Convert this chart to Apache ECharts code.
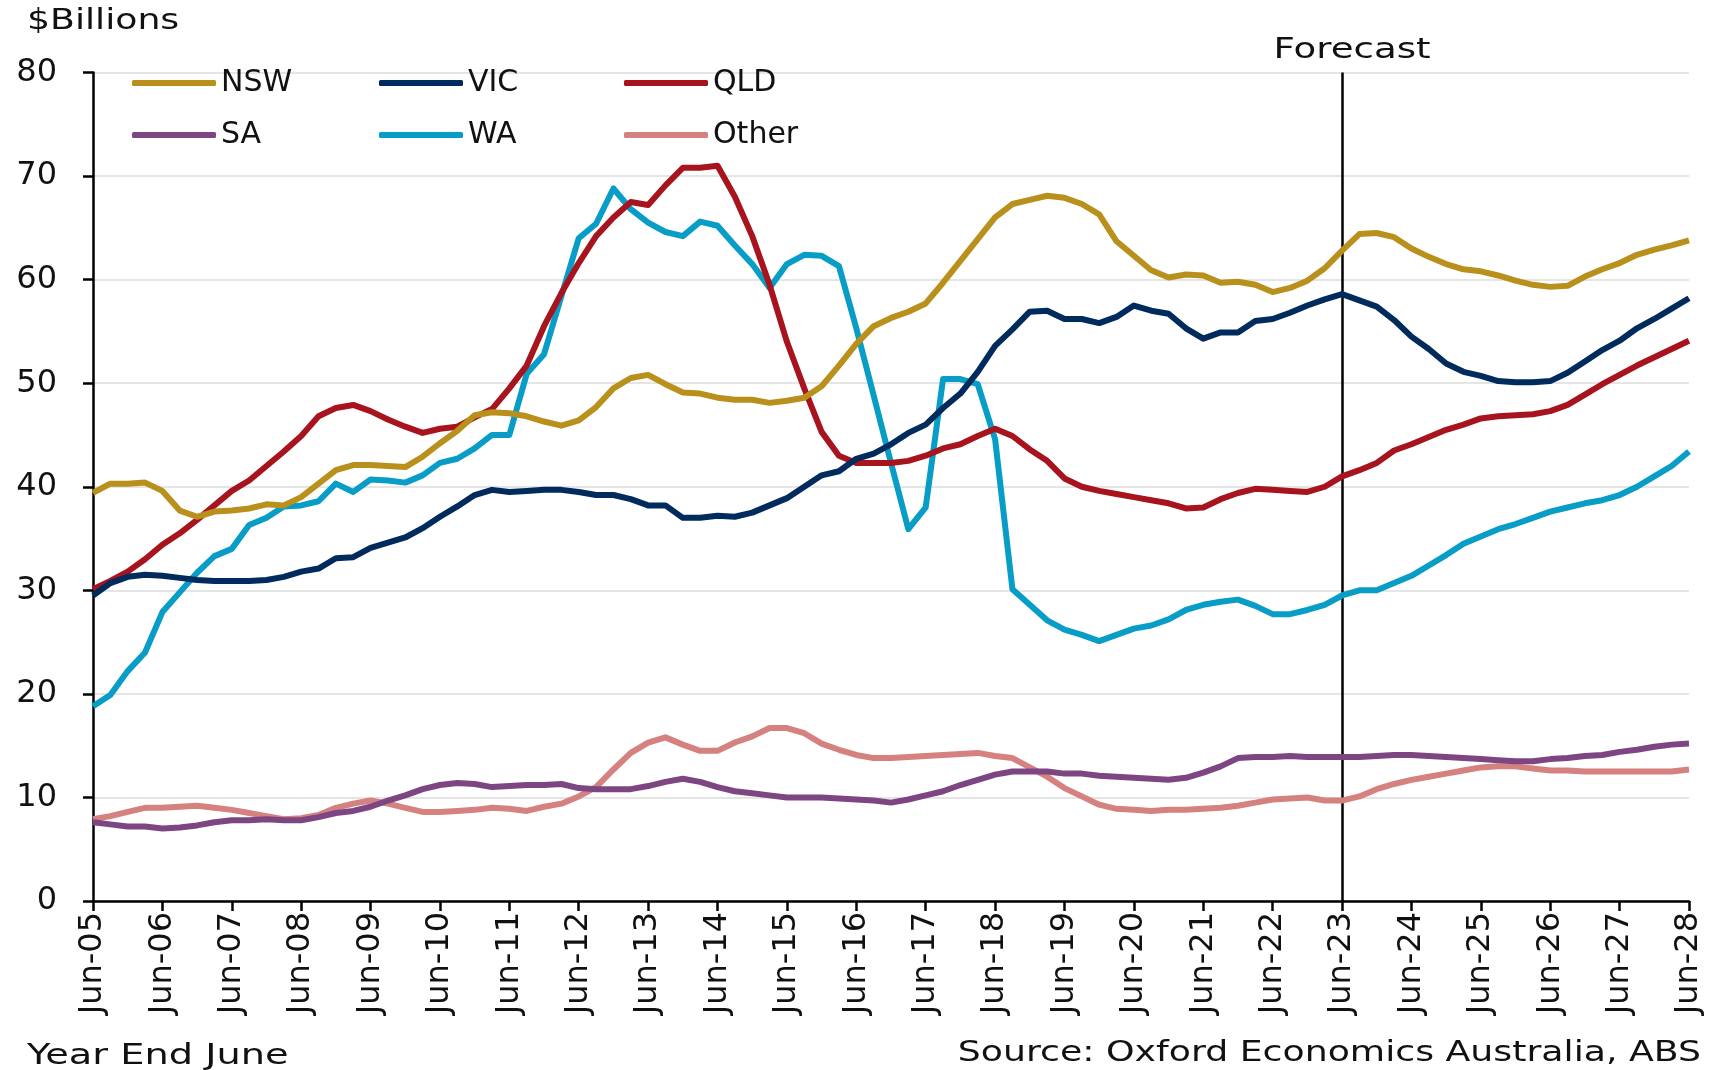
<!DOCTYPE html>
<html>
<head>
<meta charset="utf-8">
<title>Engineering construction by state</title>
<script src="https://cdn.jsdelivr.net/npm/echarts@6/dist/echarts.min.js"></script>
<style>
  html, body { margin: 0; padding: 0; background: #fff; }
  #chart { width: 1723px; height: 1070px; }
</style>
</head>
<body>
<div id="chart"></div>
<script>
// quarterly, Jun-05 .. Jun-28 ($Billions)
var months = ['Jun', 'Sep', 'Dec', 'Mar'];
var firstYear = 5, lastYear = 28;
var forecastFrom = 'Jun-23';

var nsw = [39.4,
  40.3, 40.3, 40.4, 39.6,  37.7, 37.1, 37.6, 37.7,  37.9, 38.3, 38.2, 39.0,
  40.3, 41.6, 42.1, 42.1,  42.0, 41.9, 42.9, 44.2,  45.4, 46.9, 47.2, 47.1,
  46.8, 46.3, 45.9, 46.4,  47.7, 49.5, 50.5, 50.8,  49.9, 49.1, 49.0, 48.6,
  48.4, 48.4, 48.1, 48.3,  48.6, 49.7, 51.7, 53.8,  55.5, 56.3, 56.9, 57.7,
  59.7, 61.8, 63.9, 66.0,  67.3, 67.7, 68.1, 67.9,  67.3, 66.3, 63.7, 62.3,
  60.9, 60.2, 60.5, 60.4,  59.7, 59.8, 59.5, 58.8,  59.2, 59.9, 61.1, 62.8,
  64.4, 64.5, 64.1, 63.0,  62.2, 61.5, 61.0, 60.8,  60.4, 59.9, 59.5, 59.3,
  59.4, 60.3, 61.0, 61.6,  62.4, 62.9, 63.3, 63.8];

var vic = [29.5,
  30.7, 31.3, 31.5, 31.4,  31.2, 31.0, 30.9, 30.9,  30.9, 31.0, 31.3, 31.8,
  32.1, 33.1, 33.2, 34.1,  34.6, 35.1, 36.0, 37.1,  38.1, 39.2, 39.7, 39.5,
  39.6, 39.7, 39.7, 39.5,  39.2, 39.2, 38.8, 38.2,  38.2, 37.0, 37.0, 37.2,
  37.1, 37.5, 38.2, 38.9,  40.0, 41.1, 41.5, 42.7,  43.2, 44.1, 45.2, 46.0,
  47.6, 49.0, 51.1, 53.6,  55.2, 56.9, 57.0, 56.2,  56.2, 55.8, 56.4, 57.5,
  57.0, 56.7, 55.3, 54.3,  54.9, 54.9, 56.0, 56.2,  56.8, 57.5, 58.1, 58.6,
  58.0, 57.4, 56.1, 54.5,  53.3, 51.9, 51.1, 50.7,  50.2, 50.1, 50.1, 50.2,
  51.0, 52.1, 53.2, 54.1,  55.3, 56.2, 57.2, 58.2];

var qld = [30.1,
  30.9, 31.8, 33.0, 34.4,  35.5, 36.8, 38.2, 39.6,  40.6, 42.0, 43.4, 44.9,
  46.8, 47.6, 47.9, 47.3,  46.5, 45.8, 45.2, 45.6,  45.8, 46.7, 47.5, 49.5,
  51.7, 55.5, 58.7, 61.6,  64.2, 66.0, 67.5, 67.2,  69.1, 70.8, 70.8, 71.0,
  68.0, 64.2, 59.5, 54.0,  49.5, 45.3, 43.0, 42.3,  42.3, 42.3, 42.5, 43.0,
  43.7, 44.1, 44.9, 45.6,  44.9, 43.6, 42.5, 40.8,  40.0, 39.6, 39.3, 39.0,
  38.7, 38.4, 37.9, 38.0,  38.8, 39.4, 39.8, 39.7,  39.6, 39.5, 40.0, 41.0,
  41.6, 42.3, 43.5, 44.1,  44.8, 45.5, 46.0, 46.6,  46.8, 46.9, 47.0, 47.3,
  47.9, 48.9, 49.9, 50.8,  51.7, 52.5, 53.3, 54.1];

var sa = [7.6,
  7.4, 7.2, 7.2, 7.0,  7.1, 7.3, 7.6, 7.8,  7.8, 7.9, 7.8, 7.8,
  8.1, 8.5, 8.7, 9.1,  9.7, 10.2, 10.8, 11.2,  11.4, 11.3, 11.0, 11.1,
  11.2, 11.2, 11.3, 10.9,  10.8, 10.8, 10.8, 11.1,  11.5, 11.8, 11.5, 11.0,
  10.6, 10.4, 10.2, 10.0,  10.0, 10.0, 9.9, 9.8,  9.7, 9.5, 9.8, 10.2,
  10.6, 11.2, 11.7, 12.2,  12.5, 12.5, 12.5, 12.3,  12.3, 12.1, 12.0, 11.9,
  11.8, 11.7, 11.9, 12.4,  13.0, 13.8, 13.9, 13.9,  14.0, 13.9, 13.9, 13.9,
  13.9, 14.0, 14.1, 14.1,  14.0, 13.9, 13.8, 13.7,  13.6, 13.5, 13.5, 13.7,
  13.8, 14.0, 14.1, 14.4,  14.6, 14.9, 15.1, 15.2];

var wa = [18.8,
  19.9, 22.2, 24.0, 27.9,  29.8, 31.7, 33.3, 34.0,  36.3, 37.0, 38.1, 38.2,
  38.6, 40.3, 39.5, 40.7,  40.6, 40.4, 41.1, 42.3,  42.7, 43.7, 45.0, 45.0,
  50.9, 52.8, 58.4, 64.0,  65.4, 68.8, 66.8, 65.5,  64.6, 64.2, 65.6, 65.2,
  63.3, 61.5, 59.2, 61.5,  62.4, 62.3, 61.3, 55.3,  48.8, 42.3, 35.9, 38.0,
  50.4, 50.4, 49.9, 44.6,  30.1, 28.6, 27.1, 26.2,  25.7, 25.1, 25.7, 26.3,
  26.6, 27.2, 28.1, 28.6,  28.9, 29.1, 28.5, 27.7,  27.7, 28.1, 28.6, 29.5,
  30.0, 30.0, 30.7, 31.4,  32.4, 33.4, 34.5, 35.2,  35.9, 36.4, 37.0, 37.6,
  38.0, 38.4, 38.7, 39.2,  40.0, 41.0, 42.0, 43.4];

var other = [7.9,
  8.2, 8.6, 9.0, 9.0,  9.1, 9.2, 9.0, 8.8,  8.5, 8.2, 7.9, 8.0,
  8.3, 9.0, 9.4, 9.7,  9.4, 9.0, 8.6, 8.6,  8.7, 8.8, 9.0, 8.9,
  8.7, 9.1, 9.4, 10.1,  11.0, 12.7, 14.3, 15.3,  15.8, 15.1, 14.5, 14.5,
  15.3, 15.9, 16.7, 16.7,  16.2, 15.2, 14.6, 14.1,  13.8, 13.8, 13.9, 14.0,
  14.1, 14.2, 14.3, 14.0,  13.8, 12.9, 12.0, 10.9,  10.1, 9.3, 8.9, 8.8,
  8.7, 8.8, 8.8, 8.9,  9.0, 9.2, 9.5, 9.8,  9.9, 10.0, 9.7, 9.7,
  10.1, 10.8, 11.3, 11.7,  12.0, 12.3, 12.6, 12.9,  13.0, 13.0, 12.8, 12.6,
  12.6, 12.5, 12.5, 12.5,  12.5, 12.5, 12.5, 12.7];

// Jun-05, Sep-05, Dec-05, Mar-06, Jun-06 ...
var categories = [];
for (var y = firstYear; y <= lastYear; y++) {
    for (var q = 0; q < 4; q++) {
        var yy = q == 3 ? y + 1 : y;
        if (y == lastYear && q > 0) break;
        categories.push(months[q] + '-' + (yy < 10 ? '0' + yy : yy));
    }
}

var FONT = '"DejaVu Sans", sans-serif';
var seriesList = [
    { name: 'NSW', data: nsw, color: '#B8901B' },
    { name: 'VIC', data: vic, color: '#002B5C' },
    { name: 'QLD', data: qld, color: '#A8141E' },
    { name: 'SA', data: sa, color: '#7E4583' },
    { name: 'WA', data: wa, color: '#079DC6' },
    { name: 'Other', data: other, color: '#D4817F' }
];

// legend slots (two rows of three)
var legendPos = [
    { left: 132, top: 68 }, { left: 379, top: 68 }, { left: 624, top: 68 },
    { left: 132, top: 120 }, { left: 379, top: 120 }, { left: 624, top: 120 }
];

var yearTick = function (i) { return i % 4 === 0; };

var option = {
    animation: false,
    grid: { left: 93, right: 34, top: 72.5, bottom: 169, containLabel: false },
    legend: seriesList.map(function (s, i) {
        return {
            left: legendPos[i].left,
            top: legendPos[i].top,
            padding: 0,
            data: [s.name],
            icon: 'roundRect',
            itemWidth: 84,
            itemHeight: 6,
            itemGap: 7,
            textStyle: { fontFamily: FONT, fontSize: 30, color: '#111', padding: [0, 0, 0, 0] }
        };
    }),
    xAxis: {
        type: 'category',
        data: categories,
        boundaryGap: false,
        axisLine: { lineStyle: { color: '#000', width: 2.5 } },
        axisTick: { interval: yearTick, length: 10, lineStyle: { color: '#000', width: 2.5 } },
        axisLabel: {
            interval: yearTick,
            rotate: 90,
            margin: 11,
            fontFamily: FONT,
            fontSize: 32,
            color: '#111'
        },
        splitLine: { show: false }
    },
    yAxis: {
        type: 'value',
        min: 0,
        max: 80,
        interval: 10,
        axisLine: { show: true, lineStyle: { color: '#000', width: 2.5 } },
        axisTick: { show: true, length: 10, lineStyle: { color: '#000', width: 2.5 } },
        axisLabel: { margin: 36, fontFamily: FONT, fontSize: 32, color: '#111' },
        splitLine: { lineStyle: { color: '#DCDCDC', width: 1.5 } }
    },
    series: seriesList.map(function (s, i) {
        var ser = {
            name: s.name,
            type: 'line',
            data: s.data,
            showSymbol: false,
            symbol: 'none',
            color: s.color,
            lineStyle: { color: s.color, width: 6, join: 'round' },
            z: 10 - i
        };
        if (i === 0) {
            ser.markLine = {
                silent: true,
                symbol: 'none',
                lineStyle: { color: '#000', width: 2.5, type: 'solid' },
                label: { show: false },
                data: [{ xAxis: forecastFrom }]
            };
        }
        return ser;
    })
};

var dom = document.getElementById('chart');
var chart = echarts.init(dom, null, { renderer: 'canvas' });
chart.setOption(option);

// text annotations (wide face in the original, so stretch a bit)
var fx = chart.convertToPixel({ xAxisIndex: 0 }, forecastFrom);
var txt = function (text, x, y, align, sx) {
    return {
        type: 'text',
        x: x, y: y,
        scaleX: sx,
        style: {
            text: text, fill: '#111', font: '29px ' + FONT,
            align: align, verticalAlign: 'middle'
        }
    };
};
chart.setOption({
    graphic: [
        txt('$Billions', 27, 21, 'left', 1.25),
        txt('Forecast', fx + 10, 50, 'center', 1.28),
        txt('Year End June', 27, 1056, 'left', 1.32),
        txt('Source: Oxford Economics Australia, ABS', 1701, 1053, 'right', 1.25)
    ]
});
</script>
</body>
</html>
